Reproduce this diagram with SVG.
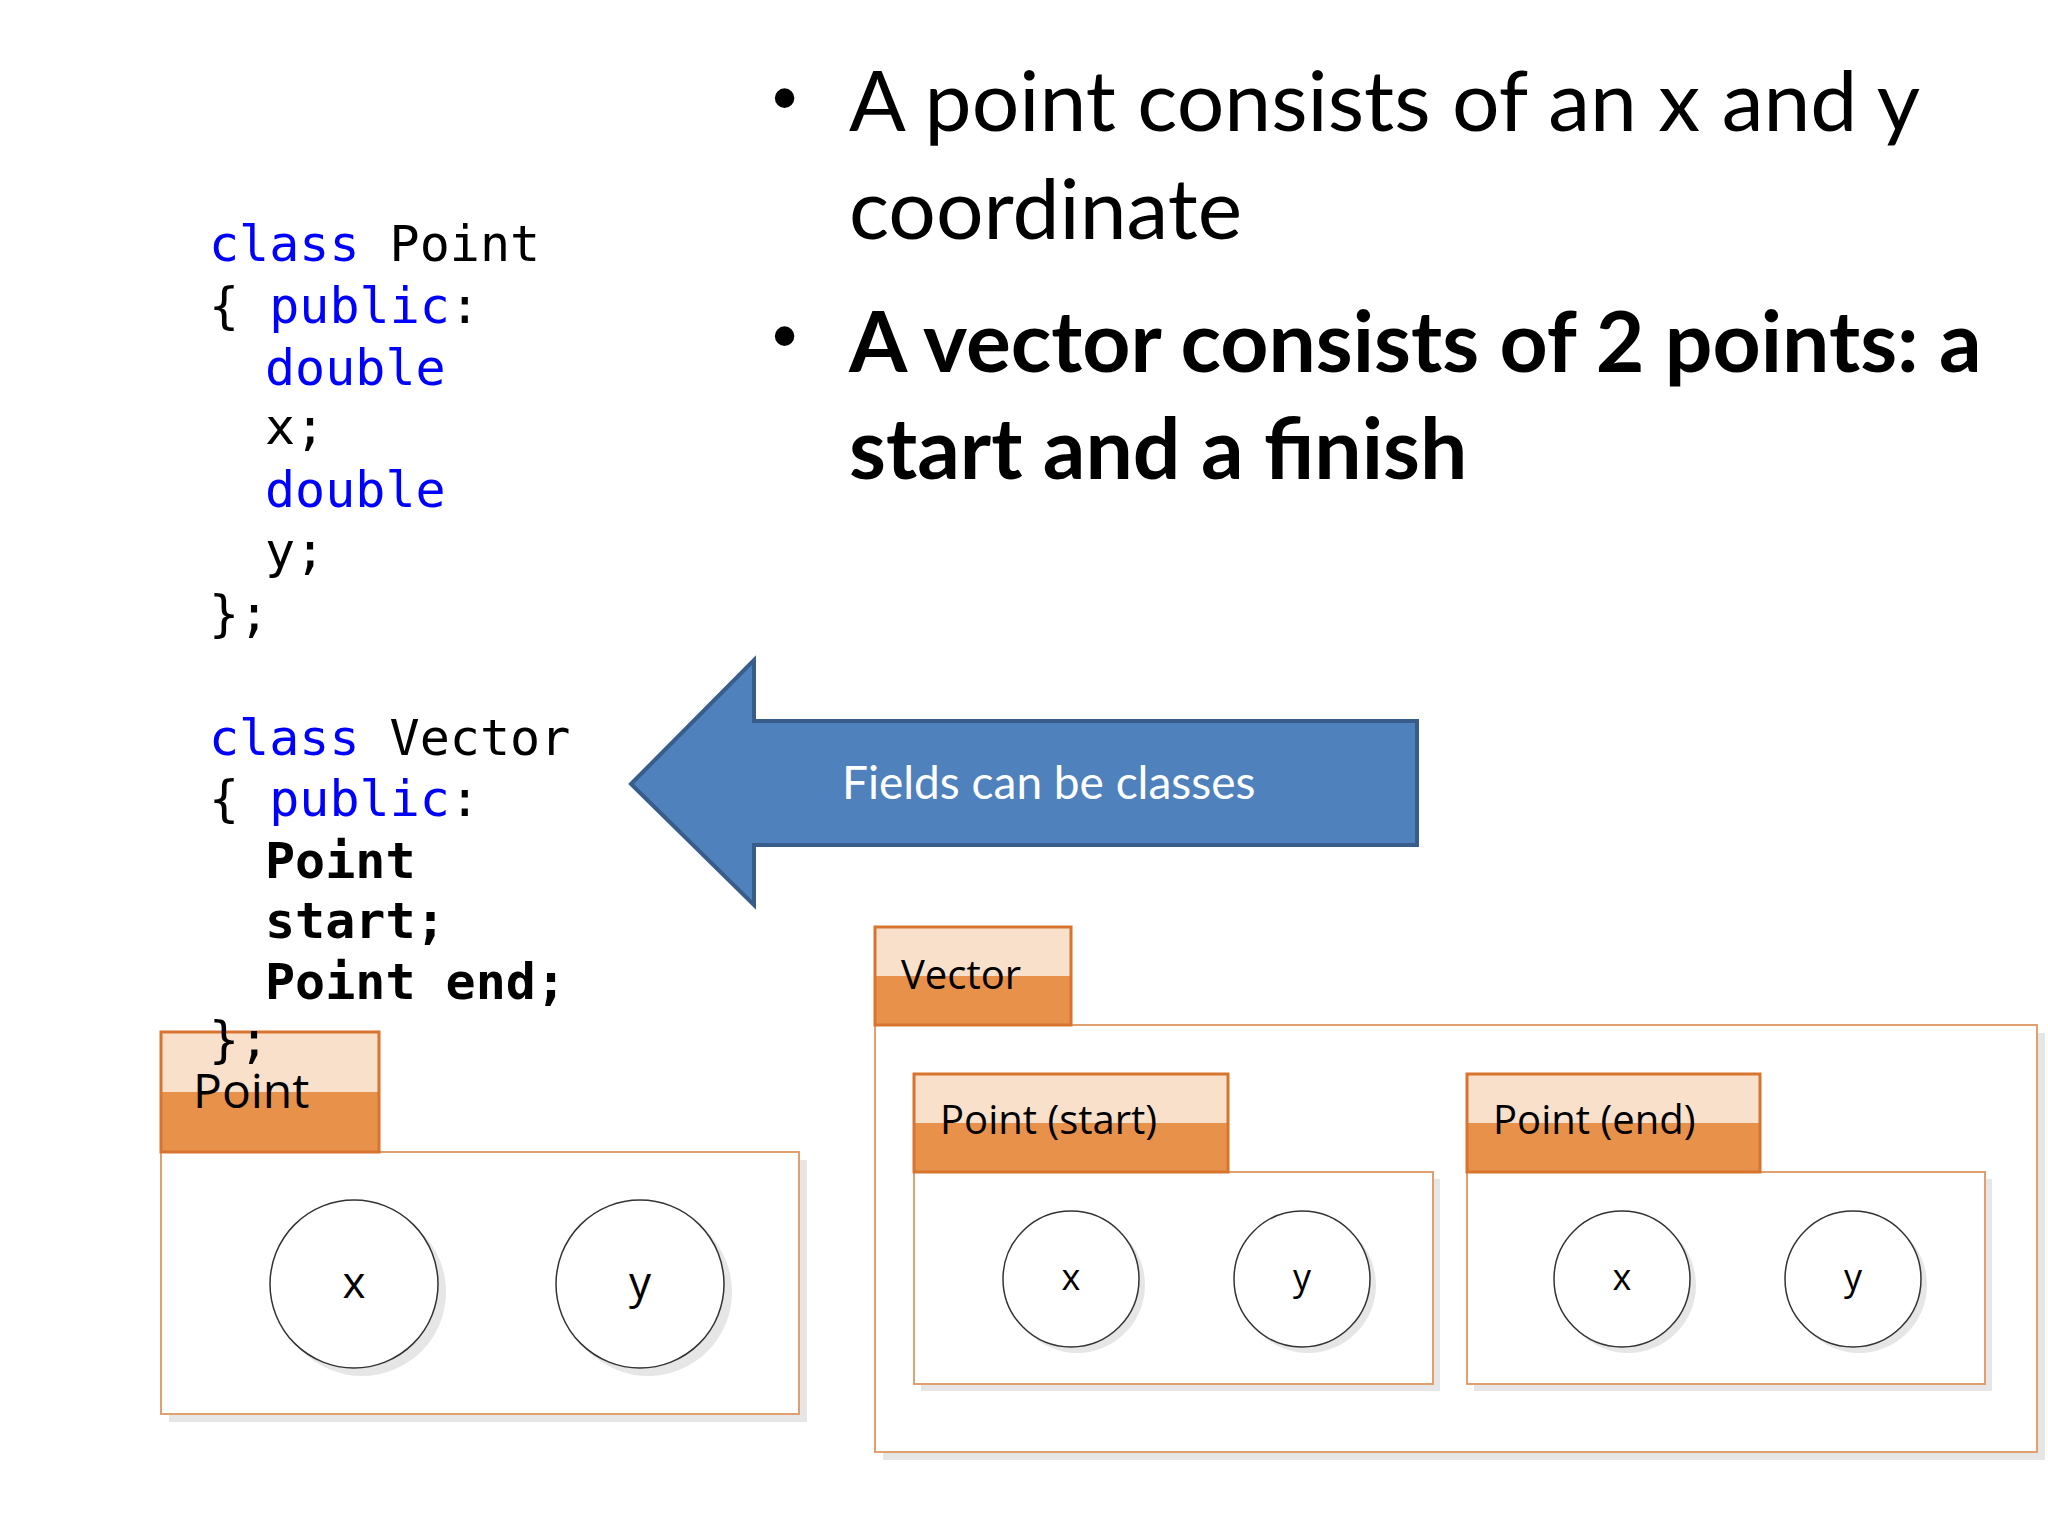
<svg xmlns="http://www.w3.org/2000/svg" width="2048" height="1536" viewBox="0 0 2048 1536">
<defs>
<linearGradient id="tab" x1="0" y1="0" x2="0" y2="1">
<stop offset="0" stop-color="#F8E0CB"/><stop offset="0.5" stop-color="#F8E0CB"/><stop offset="0.5" stop-color="#E8914A"/><stop offset="1" stop-color="#E8914A"/>
</linearGradient>
</defs>
<style>
.code{font-family:"DejaVu Sans Mono",monospace;font-size:50px;fill:#000}
.kw{fill:#0000FF}
.b{font-weight:bold}
.bul{font-family:Lato,"Liberation Sans",sans-serif;font-size:84px;fill:#000}
.dot{font-family:"Liberation Sans",sans-serif;font-size:72px;fill:#000}
.tab{fill:url(#tab);stroke:#D9742F;stroke-width:3}
.body{fill:#fff;stroke:#E0A070;stroke-width:2}
.sh{fill:#E6E6E6}
.circ{fill:#fff;stroke:#333;stroke-width:1.5}
.lbl{font-family:"Open Sans","Liberation Sans",sans-serif;fill:#000}
</style>
<rect width="2048" height="1536" fill="#fff"/>
<g id="bullets">
<text class="dot" x="772" y="122">•</text>
<text class="bul" x="849" y="131">A point consists of an x and y</text>
<text class="bul" x="849" y="239">coordinate</text>
<text class="dot" x="772" y="360">•</text>
<text class="bul" x="849" y="372" font-weight="bold">A vector consists of 2 points: a</text>
<text class="bul" x="849" y="479" font-weight="bold">start and a finish</text>
</g>
<g id="code">
<text class="code" x="209" y="261"><tspan class="kw">class</tspan> Point</text>
<text class="code" x="209" y="323">{ <tspan class="kw">public</tspan>:</text>
<text class="code kw" x="265" y="385">double</text>
<text class="code" x="265" y="444">x;</text>
<text class="code kw" x="265" y="507">double</text>
<text class="code" x="265" y="568">y;</text>
<text class="code" x="209" y="631">};</text>
<text class="code" x="209" y="755"><tspan class="kw">class</tspan> Vector</text>
<text class="code" x="209" y="816">{ <tspan class="kw">public</tspan>:</text>
<text class="code b" x="265" y="878">Point</text>
<text class="code b" x="265" y="938">start;</text>
<text class="code b" x="265" y="999">Point end;</text>
</g>
<g id="arrow">
<polygon points="631,784 754,660 754,721 1417,721 1417,845 754,845 754,905" fill="#4F81BD" stroke="#385D8A" stroke-width="4"/>
<text x="842" y="799" font-family="Lato,'Liberation Sans',sans-serif" font-size="46" fill="#fff">Fields can be classes</text>
</g>
<g id="point">
<rect class="sh" x="169" y="1160" width="638" height="262"/>
<rect class="body" x="161" y="1152" width="638" height="262"/>
<rect class="tab" x="161" y="1032" width="218" height="120"/>
<text class="code" x="209" y="1057">};</text>
<text class="lbl" x="193" y="1108" font-size="48">Point</text>
<ellipse class="sh" cx="362" cy="1292" rx="84" ry="84"/>
<ellipse class="circ" cx="354" cy="1284" rx="84" ry="84"/>
<text class="lbl" x="354" y="1298" font-size="44" text-anchor="middle">x</text>
<ellipse class="sh" cx="648" cy="1292" rx="84" ry="84"/>
<ellipse class="circ" cx="640" cy="1284" rx="84" ry="84"/>
<text class="lbl" x="640" y="1298" font-size="44" text-anchor="middle">y</text>
</g>
<g id="vector">
<rect class="sh" x="883" y="1033" width="1162" height="427"/>
<rect class="body" x="875" y="1025" width="1162" height="427"/>
<rect class="tab" x="875" y="927" width="196" height="98"/>
<text class="lbl" x="901" y="989" font-size="40">Vector</text>
</g>
<g id="point-start">
<rect class="sh" x="921" y="1179" width="519" height="212"/>
<rect class="body" x="914" y="1172" width="519" height="212"/>
<rect class="tab" x="914" y="1074" width="314" height="98"/>
<text class="lbl" x="940" y="1134" font-size="40">Point (start)</text>
<ellipse class="sh" cx="1077" cy="1285" rx="68" ry="68"/>
<ellipse class="circ" cx="1071" cy="1279" rx="68" ry="68"/>
<text class="lbl" x="1071" y="1290" font-size="36" text-anchor="middle">x</text>
<ellipse class="sh" cx="1308" cy="1285" rx="68" ry="68"/>
<ellipse class="circ" cx="1302" cy="1279" rx="68" ry="68"/>
<text class="lbl" x="1302" y="1290" font-size="36" text-anchor="middle">y</text>
</g>
<g id="point-end">
<rect class="sh" x="1474" y="1179" width="518" height="212"/>
<rect class="body" x="1467" y="1172" width="518" height="212"/>
<rect class="tab" x="1467" y="1074" width="293" height="98"/>
<text class="lbl" x="1493" y="1134" font-size="40">Point (end)</text>
<ellipse class="sh" cx="1628" cy="1285" rx="68" ry="68"/>
<ellipse class="circ" cx="1622" cy="1279" rx="68" ry="68"/>
<text class="lbl" x="1622" y="1290" font-size="36" text-anchor="middle">x</text>
<ellipse class="sh" cx="1859" cy="1285" rx="68" ry="68"/>
<ellipse class="circ" cx="1853" cy="1279" rx="68" ry="68"/>
<text class="lbl" x="1853" y="1290" font-size="36" text-anchor="middle">y</text>
</g>
<g id="connectors"/>
</svg>
